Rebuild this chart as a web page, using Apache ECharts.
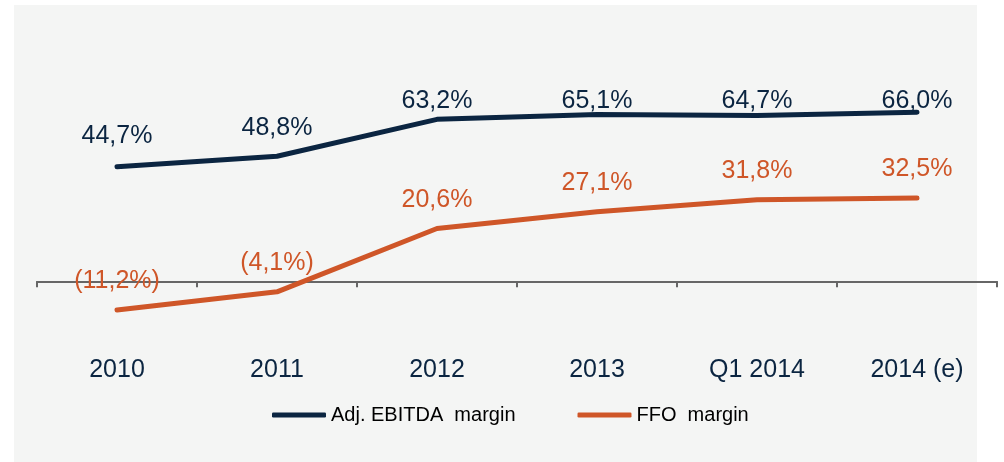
<!DOCTYPE html>
<html>
<head>
<meta charset="utf-8">
<script src="https://cdn.jsdelivr.net/npm/echarts@6/dist/echarts.min.js"></script>
<style>html,body{margin:0;padding:0;background:#fff;}#c{width:1004px;height:462px;}</style>
</head>
<body>
<div id="c"></div>
<script>
// Data
var categories = ['2010', '2011', '2012', '2013', 'Q1 2014', '2014 (e)'];
var ebitdaMargin = [44.7, 48.8, 63.2, 65.1, 64.7, 66.0];
var ffoMargin = [-11.2, -4.1, 20.6, 27.1, 31.8, 32.5];
var seriesNames = ['Adj. EBITDA  margin', 'FFO  margin'];

// Layout (label vertical shifts in px, not data)
var ebitdaLabelShift = [-2, 0, 10, 15, 14, 18];

var navy = '#0b2541';
var orange = '#cf5628';
var font = 'Arial, "Liberation Sans", sans-serif';

function fmt(p) {
  var v = p.value;
  var s = Math.abs(v).toFixed(1).replace('.', ',') + '%';
  return v < 0 ? '(' + s + ')' : s;
}

var ebitdaData = ebitdaMargin.map(function (v, i) {
  return { value: v, label: { offset: [0, ebitdaLabelShift[i]] } };
});

var chart = echarts.init(document.getElementById('c'), null, { renderer: 'canvas' });
chart.setOption({
  animation: false,
  backgroundColor: '#ffffff',
  graphic: [{
    type: 'rect', z: -10, silent: true,
    shape: { x: 14, y: 5, width: 963, height: 457 },
    style: { fill: '#f4f5f4' }
  }],
  grid: { left: 37, right: 7, top: 76.26, bottom: 103.81 },
  legend: {
    left: 267, top: 400,
    itemWidth: 54, itemHeight: 5, itemGap: 62,
    icon: 'roundRect',
    textStyle: { fontFamily: font, fontSize: 20, color: '#000000' },
    data: seriesNames
  },
  xAxis: {
    type: 'category',
    data: categories,
    boundaryGap: true,
    axisLine: { onZero: true, lineStyle: { color: '#666666', width: 2 } },
    axisTick: { show: true, length: 6, lineStyle: { color: '#666666', width: 2 } },
    axisLabel: { margin: -1, fontFamily: font, fontSize: 25, color: navy },
    splitLine: { show: false }
  },
  yAxis: {
    type: 'value', min: -30, max: 80, show: false,
    splitLine: { show: false }
  },
  series: [{
    name: seriesNames[0],
    type: 'line',
    data: ebitdaData,
    symbol: 'circle', symbolSize: 0.1, showSymbol: true,
    lineStyle: { color: navy, width: 5, cap: 'round', join: 'round' },
    itemStyle: { color: navy },
    label: { show: true, position: 'top', distance: 16, formatter: fmt,
      fontFamily: font, fontSize: 25, color: navy }
  }, {
    name: seriesNames[1],
    type: 'line',
    data: ffoMargin,
    symbol: 'circle', symbolSize: 0.1, showSymbol: true,
    lineStyle: { color: orange, width: 5, cap: 'round', join: 'round' },
    itemStyle: { color: orange },
    label: { show: true, position: 'top', distance: 16, formatter: fmt,
      fontFamily: font, fontSize: 25, color: orange }
  }]
});
</script>
</body>
</html>
